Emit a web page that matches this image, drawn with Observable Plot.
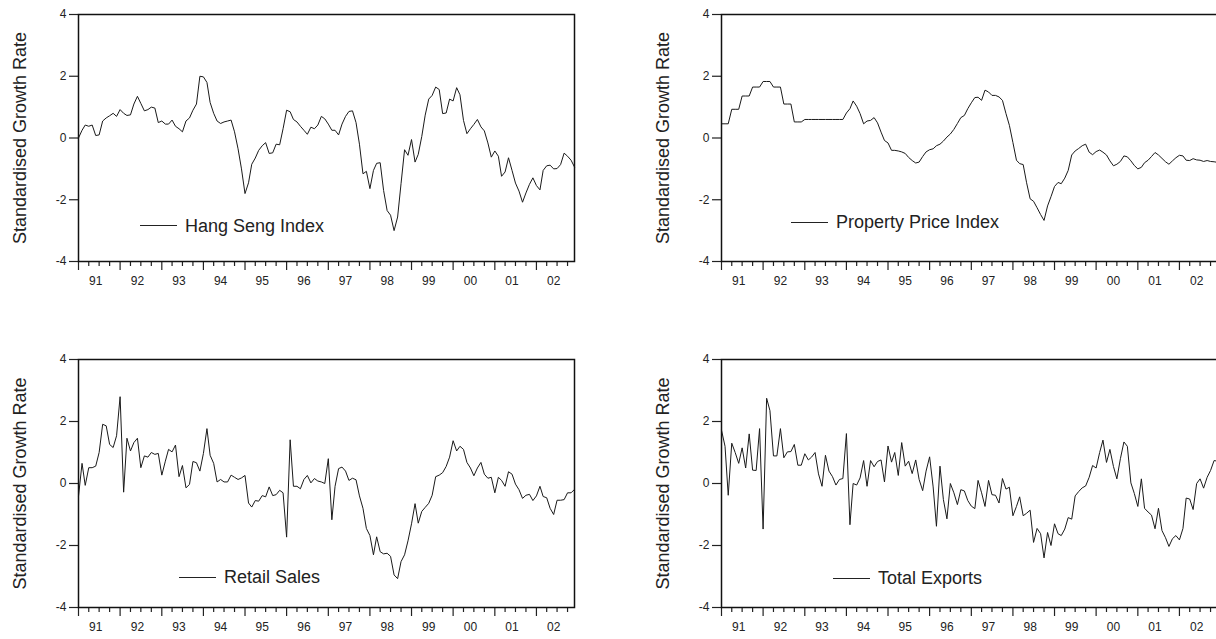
<!DOCTYPE html>
<html><head><meta charset="utf-8">
<script src="https://cdn.jsdelivr.net/npm/d3@7"></script>
<script src="https://cdn.jsdelivr.net/npm/@observablehq/plot@0.6"></script>
<style>
html,body{margin:0;padding:0;background:#fff;overflow:hidden;}
#root{position:relative;width:1216px;height:639px;overflow:hidden;font-family:"Liberation Sans",Arial,Helvetica,sans-serif;}
.panel{position:absolute;}
.legend{position:absolute;display:flex;align-items:center;height:20px;line-height:20px;font-size:18px;color:#222;white-space:nowrap;}
.legend .sw{display:inline-block;width:37px;height:0;border-top:1.3px solid #222;margin-right:8px;}
</style></head><body><div id="root"></div>
<script>
// ---- data (monthly, 1991M01 - 2002M12) ----
const startYear = 1991;
const years = [1991,1992,1993,1994,1995,1996,1997,1998,1999,2000,2001,2002];
const yTicks = [-4,-2,0,2,4];
const yTitle = "Standardised Growth Rate";
const seriesNames = ["Hang Seng Index","Property Price Index","Retail Sales","Total Exports"];

const hangSeng = [
 0.0,0.25,0.42,0.38,0.42,0.08,0.1,0.55,0.65,0.72,
 0.8,0.7,0.92,0.8,0.73,0.75,1.1,1.35,1.12,0.88,
 0.92,1.0,0.97,0.5,0.55,0.45,0.45,0.58,0.38,0.3,
 0.2,0.55,0.65,0.9,1.1,2.0,1.98,1.8,1.15,0.8,
 0.55,0.47,0.52,0.55,0.58,0.2,-0.35,-1.0,-1.8,-1.45,
 -0.85,-0.65,-0.4,-0.25,-0.15,-0.5,-0.48,-0.2,-0.22,0.3,
 0.9,0.85,0.6,0.52,0.38,0.25,0.12,0.35,0.3,0.42,
 0.7,0.62,0.45,0.25,0.25,0.1,0.45,0.7,0.86,0.88,
 0.5,-0.2,-1.16,-1.08,-1.64,-1.05,-0.82,-0.8,-1.7,-2.35,
 -2.5,-3.0,-2.56,-1.48,-0.38,-0.56,-0.05,-0.78,-0.53,0.05,
 0.74,1.26,1.38,1.65,1.57,0.79,0.81,1.26,1.2,1.63,
 1.4,0.57,0.14,0.3,0.44,0.6,0.36,0.23,-0.16,-0.62,
 -0.42,-0.59,-1.24,-1.1,-0.64,-1.05,-1.46,-1.72,-2.08,-1.78,
 -1.5,-1.29,-1.54,-1.68,-1.05,-0.9,-0.88,-1.0,-0.99,-0.86,
 -0.49,-0.59,-0.72,-0.94
];
const propertyPrice = [
 0.46,0.46,0.46,0.93,0.93,0.93,1.36,1.36,1.36,1.65,
 1.65,1.65,1.83,1.83,1.83,1.65,1.65,1.65,1.1,1.1,
 1.1,0.52,0.52,0.52,0.6,0.6,0.6,0.6,0.6,0.6,
 0.6,0.6,0.6,0.6,0.6,0.6,0.81,0.95,1.2,1.03,
 0.79,0.46,0.55,0.57,0.66,0.49,0.19,-0.08,-0.16,-0.4,
 -0.4,-0.42,-0.45,-0.5,-0.63,-0.73,-0.81,-0.78,-0.6,-0.45,
 -0.38,-0.35,-0.25,-0.2,-0.1,0.03,0.13,0.28,0.47,0.66,
 0.73,0.95,1.14,1.31,1.32,1.22,1.55,1.49,1.38,1.38,
 1.33,1.22,0.79,0.41,-0.15,-0.72,-0.83,-0.86,-1.45,-1.97,
 -2.05,-2.26,-2.48,-2.67,-2.2,-1.9,-1.57,-1.44,-1.48,-1.3,
 -1.05,-0.55,-0.42,-0.34,-0.25,-0.2,-0.46,-0.54,-0.44,-0.39,
 -0.46,-0.55,-0.74,-0.9,-0.85,-0.76,-0.58,-0.61,-0.74,-0.89,
 -1.0,-0.95,-0.8,-0.72,-0.6,-0.47,-0.55,-0.66,-0.77,-0.85,
 -0.74,-0.64,-0.56,-0.58,-0.72,-0.73,-0.67,-0.71,-0.72,-0.76,
 -0.73,-0.76,-0.77,-0.79
];
const retailSales = [
 -0.41,0.65,-0.06,0.51,0.51,0.56,1.0,1.91,1.86,1.26,
 1.16,1.54,2.8,-0.28,1.46,1.05,1.32,1.46,0.51,0.89,
 0.85,1.0,0.94,0.97,0.27,0.72,1.1,1.02,1.24,0.22,
 0.58,-0.14,-0.03,0.71,0.67,0.4,0.97,1.77,0.91,0.65,
 0.05,0.13,0.05,0.05,0.27,0.2,0.13,0.18,0.26,-0.63,
 -0.76,-0.55,-0.57,-0.39,-0.43,-0.11,-0.39,-0.36,-0.22,-0.3,
 -1.73,1.41,-0.09,-0.09,-0.17,0.13,0.26,0.02,0.16,0.08,
 0.05,0.0,0.8,-1.17,-0.09,0.48,0.53,0.4,0.1,0.17,
 0.12,-0.4,-0.8,-1.45,-1.68,-2.3,-1.72,-2.2,-2.27,-2.25,
 -2.35,-2.95,-3.07,-2.52,-2.3,-1.85,-1.3,-0.65,-1.28,-0.9,
 -0.77,-0.64,-0.38,0.22,0.27,0.35,0.55,0.85,1.38,1.05,
 1.2,1.1,0.68,0.5,0.25,0.5,0.68,0.3,0.17,0.2,
 -0.3,0.2,0.1,-0.09,0.38,0.3,-0.02,-0.2,-0.48,-0.38,
 -0.35,-0.55,-0.4,-0.09,-0.42,-0.46,-0.8,-1.0,-0.54,-0.54,
 -0.52,-0.3,-0.3,-0.19
];
const totalExports = [
 1.72,1.2,-0.38,1.3,1.0,0.65,1.15,0.5,1.6,0.43,
 0.42,1.77,-1.47,2.75,2.35,0.89,0.89,1.77,0.83,1.02,
 1.03,1.26,0.59,0.59,0.96,0.76,0.85,1.0,0.31,-0.09,
 0.91,0.4,0.22,-0.05,0.13,0.16,1.61,-1.33,0.0,-0.05,
 0.18,0.74,-0.09,0.74,0.54,0.71,0.76,0.05,1.21,0.69,
 1.0,0.26,1.32,0.56,0.72,0.32,0.76,0.13,-0.23,0.4,
 0.86,-0.11,-1.38,0.56,-0.52,-1.14,0.0,-0.3,-0.68,-0.2,
 -0.24,-0.55,-0.73,-0.81,0.1,-0.3,-0.74,0.1,-0.36,-0.38,
 -0.63,0.16,-0.18,-0.12,-1.04,-0.74,-0.43,-1.04,-0.96,-0.86,
 -1.9,-1.45,-1.62,-2.4,-1.58,-2.0,-1.3,-1.62,-1.68,-1.47,
 -1.1,-1.15,-0.4,-0.26,-0.14,-0.08,0.2,0.58,0.5,1.0,
 1.4,0.68,1.1,0.55,0.15,0.8,1.34,1.2,0.02,-0.32,
 -0.74,0.15,-0.8,-0.92,-1.02,-1.46,-0.8,-1.52,-1.75,-2.03,
 -1.78,-1.68,-1.82,-1.45,-0.47,-0.5,-0.84,0.0,0.15,-0.15,
 0.2,0.42,0.74,0.72
];

// ---- layout ----
const FONT = '"Liberation Sans", Arial, Helvetica, sans-serif';
const root = document.getElementById("root");
const xStart = new Date(Date.UTC(startYear, 0, 1));
const xEnd = new Date(Date.UTC(startYear, hangSeng.length - 1, 1));
const yearTicks = years.map(y => new Date(Date.UTC(y, 0, 1)));
const quarterTicks = years.flatMap(y => [3, 6, 9].map(m => new Date(Date.UTC(y, m, 1))));
const labelTicks = years.map(y => new Date(Date.UTC(y, 5, 1)));

function panel(values, name, box, legendPos) {
  const data = values.map((v, i) => ({date: new Date(Date.UTC(startYear, i, 1)), value: v}));
  const chart = Plot.plot({
    width: box.width, height: box.height,
    marginLeft: box.ml, marginRight: box.mr, marginTop: box.mt, marginBottom: box.mb,
    style: {fontFamily: FONT, color: "#222", background: "transparent", overflow: "visible"},
    x: {type: "utc", domain: [xStart, xEnd]},
    y: {domain: [-4, 4]},
    marks: [
      Plot.line(data, {x: "date", y: "value", stroke: "#1a1a1a", strokeWidth: 1}),
      Plot.axisX(yearTicks, {anchor: "bottom", tickSize: 9, tickFormat: () => "", label: null, strokeWidth: 1.2}),
      Plot.axisX(quarterTicks, {anchor: "bottom", tickSize: 5, tickFormat: () => "", label: null, strokeWidth: 1.2}),
      Plot.axisX(labelTicks, {anchor: "bottom", tickSize: 0, tickPadding: 15, fontSize: 12,
        tickFormat: d => String(d.getUTCFullYear()).slice(2), label: null}),
      Plot.axisY(yTicks, {anchor: "left", tickSize: 9, tickPadding: 3, fontSize: 12,
        tickFormat: d => String(d), label: null, strokeWidth: 1.2}),
      Plot.text([yTitle], {text: d => d, frameAnchor: "left", dx: -58, rotate: -90,
        textAnchor: "middle", lineAnchor: "middle", fontSize: 18, fill: "#222"}),
      Plot.frame({stroke: "#111", strokeWidth: 1.5})
    ]
  });
  chart.classList.add("panel");
  chart.style.left = box.left + "px";
  chart.style.top = box.top + "px";
  root.appendChild(chart);

  const lg = document.createElement("div");
  lg.className = "legend";
  lg.style.left = legendPos[0] + "px";
  lg.style.top = legendPos[1] + "px";
  const sw = document.createElement("span");
  sw.className = "sw";
  const tx = document.createElement("span");
  tx.textContent = name;
  lg.appendChild(sw); lg.appendChild(tx);
  root.appendChild(lg);
}

const leftTop = {left: 0, top: 0, width: 600, height: 300, ml: 78, mr: 26, mt: 14, mb: 39};
const rightTop = {left: 608, top: 0, width: 610, height: 300, ml: 113, mr: 1, mt: 14, mb: 39};
const leftBot = {left: 0, top: 345, width: 600, height: 294, ml: 78, mr: 26, mt: 14, mb: 32};
const rightBot = {left: 608, top: 345, width: 610, height: 294, ml: 113, mr: 1, mt: 14, mb: 32};

panel(hangSeng, seriesNames[0], leftTop, [140, 215.5]);
panel(propertyPrice, seriesNames[1], rightTop, [791, 212]);
panel(retailSales, seriesNames[2], leftBot, [179, 567]);
panel(totalExports, seriesNames[3], rightBot, [833, 568]);
</script></body></html>
